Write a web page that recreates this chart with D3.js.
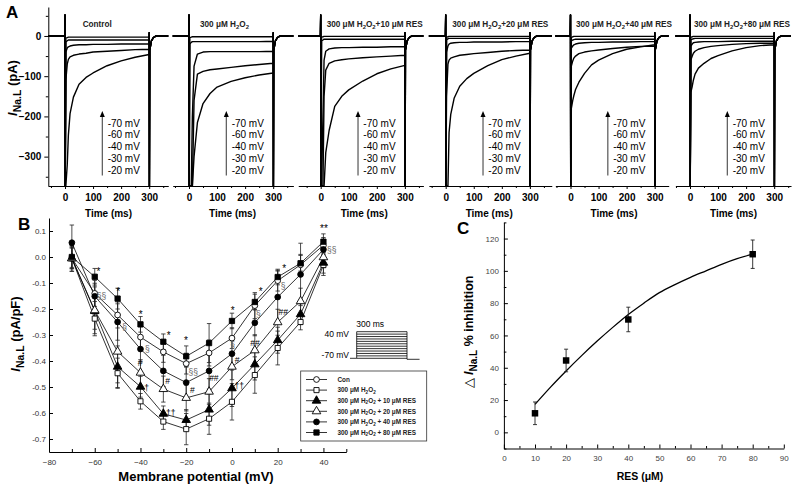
<!DOCTYPE html>
<html><head><meta charset="utf-8">
<script src="https://cdn.jsdelivr.net/npm/d3@7"></script>
<style>
body{margin:0;background:#fff}
svg{display:block}
text{font-family:"Liberation Sans",Arial,sans-serif}
</style>
</head><body>
<svg id="c" width="796" height="486"></svg>
<script>
// ================= DATA =================
// ---- Panel A: late sodium current traces ----
const aPanelTitles = ["Control","300 μM H2O2","300 μM H2O2+10 μM RES","300 μM H2O2+20 μM RES","300 μM H2O2+40 μM RES","300 μM H2O2+80 μM RES"];
const aStepLabels = ["-70 mV","-60 mV","-40 mV","-30 mV","-20 mV"];
const aYTicks = [0,-100,-200,-300];
const aYMinor = [50,-50,-150,-250,-350];
const aXTicks = [0,100,200,300];
const aXMinor = [-50,50,150,250,350];
// sample times (ms) of the traces after the step onset
const traceT = [3,8,12,18,30,50,75,100,150,200,250,300];
// holding baseline and capacitive spike before/after the step (ms, pA)
const artifactPre = [[-90,0],[-1,0],[0,52],[0.8,-380]];
const artifactPost = [[300.3,8],[300.8,-380],[302,-35],[308,-12],[315,-4],[325,0],[400,0]];
// traces per panel, rows = -70, -60, -40, -30, -20 mV (pA)
const trControl = [
  [-5,-4,-3,-3,-3,-3,-3,-3,-3,-3,-3,-3],
  [-15,-12,-10,-10,-10,-10,-10,-10,-10,-10,-10,-10],
  [-40,-30,-27,-25,-23,-22,-22,-21,-21,-20,-20,-20],
  [-110,-70,-58,-52,-48,-45,-43,-40,-38,-36,-34,-33],
  [-375,-320,-247,-193,-152,-120,-103,-92,-74,-62,-53,-46]];
const trH2O2 = [
  [-4,-3,-2,-2,-2,-2,-2,-2,-2,-2,-2,-2],
  [-20,-16,-14,-14,-14,-14,-14,-14,-14,-14,-14,-13],
  [-375,-375,-200,-75,-45,-40,-39,-39,-39,-39,-39,-38],
  [-375,-375,-375,-160,-95,-88,-84,-82,-78,-74,-71,-68],
  [-375,-375,-375,-300,-215,-168,-143,-127,-113,-104,-97,-92]];
const trRes10 = [
  [-3,-2,-1,-1,-1,-1,-1,-1,-1,-1,-1,-1],
  [-12,-10,-8,-8,-8,-8,-8,-8,-8,-8,-8,-8],
  [-375,-200,-60,-38,-32,-30,-29,-29,-28,-28,-27,-27],
  [-375,-375,-150,-85,-68,-62,-59,-57,-54,-52,-50,-48],
  [-375,-375,-375,-290,-235,-175,-150,-134,-112,-94,-82,-73]];
const trRes20 = [
  [-3,-2,-1,-1,-1,-1,-1,-1,-1,-1,-1,-1],
  [-10,-7,-6,-6,-6,-6,-6,-6,-6,-6,-6,-6],
  [-40,-25,-20,-18,-17,-16,-16,-15,-15,-15,-14,-14],
  [-150,-70,-60,-55,-52,-48,-46,-44,-41,-38,-36,-35],
  [-375,-375,-240,-195,-155,-125,-106,-93,-74,-59,-50,-43]];
const trRes40 = [
  [-4,-2,-1,-1,-1,-1,-1,-1,-1,-1,-1,-1],
  [-12,-10,-9,-8,-8,-8,-8,-8,-8,-8,-8,-8],
  [-30,-25,-22,-20,-18,-17,-16,-16,-15,-15,-14,-14],
  [-75,-62,-55,-50,-44,-40,-37,-35,-31,-28,-26,-25],
  [-180,-160,-148,-133,-115,-93,-72,-60,-44,-33,-27,-22]];
const trRes80 = [
  [-3,-2,-1,-1,-1,-1,-1,-1,-1,-1,-1,-1],
  [-10,-8,-7,-6,-6,-6,-6,-6,-6,-6,-6,-6],
  [-25,-20,-17,-16,-15,-14,-14,-14,-13,-13,-13,-13],
  [-60,-50,-43,-38,-33,-29,-26,-24,-21,-19,-18,-18],
  [-140,-125,-110,-95,-80,-68,-56,-49,-37,-29,-24,-22]];
const aTraces = [trControl,trH2O2,trRes10,trRes20,trRes40,trRes80];
// arrow & step-label positions in data units (ms, pA)
const aArrowT = 133, aArrowFrom = -347, aArrowTo = -189;
const aLabelT = 152;
const aLabelV = [-217,-246,-276,-305,-334];

// ---- Panel B: I-V relationship ----
const ivV = [-70,-60,-50,-40,-30,-20,-10,0,10,20,30,40];
const ivCon   = [-0.005,-0.14,-0.223,-0.308,-0.365,-0.41,-0.369,-0.312,-0.187,-0.091,-0.03,0.045];
const ivH2O2  = [-0.005,-0.237,-0.447,-0.555,-0.633,-0.662,-0.622,-0.557,-0.454,-0.35,-0.25,-0.031];
const ivRes10 = [-0.005,-0.208,-0.422,-0.499,-0.603,-0.627,-0.587,-0.505,-0.413,-0.32,-0.22,-0.022];
const ivRes20 = [-0.005,-0.205,-0.364,-0.445,-0.508,-0.542,-0.518,-0.422,-0.359,-0.251,-0.17,-0.001];
const ivRes40 = [0.055,-0.151,-0.25,-0.354,-0.438,-0.483,-0.438,-0.372,-0.253,-0.154,-0.067,0.029];
const ivRes80 = [0.0,-0.076,-0.16,-0.259,-0.326,-0.382,-0.331,-0.246,-0.173,-0.077,-0.024,0.059];
const errCon   = [0.04,0.05,0.05,0.04,0.04,0.04,0.05,0.04,0.05,0.04,0.04,0.03];
const errH2O2  = [0.05,0.066,0.058,0.03,0.03,0.06,0.06,0.07,0.07,0.065,0.03,0.04];
const errRes10 = [0.05,0.07,0.08,0.04,0.03,0.04,0.06,0.07,0.06,0.05,0.04,0.04];
const errRes20 = [0.04,0.09,0.12,0.05,0.05,0.05,0.05,0.05,0.06,0.05,0.05,0.04];
const errRes40 = [0.068,0.05,0.07,0.05,0.06,0.06,0.07,0.05,0.05,0.1,0.12,0.03];
const errRes80 = [0.04,0.032,0.04,0.03,0.03,0.04,0.075,0.03,0.03,0.03,0.03,0.03];
const ivLegend = ["Con","300 μM H2O2","300 μM H2O2 + 10 μM RES","300 μM H2O2 + 20 μM RES","300 μM H2O2 + 40 μM RES","300 μM H2O2 + 80 μM RES"];
const ivXTicks = [-80,-60,-40,-20,0,20,40];
const ivXMinor = [-70,-50,-30,-10,10,30,50];
const ivYTicks = [0.1,0.0,-0.1,-0.2,-0.3,-0.4,-0.5,-0.6,-0.7];
// significance marks: [mV, value, label]
const ivMarks = [
  [-58.4,-0.057,"*"],[-57.0,-0.149,"§§"],[-49.7,-0.131,"*"],[-46.9,-0.268,"§"],
  [-39.9,-0.220,"*"],[-37.0,-0.355,"§"],[-40.2,-0.407,"#"],[-37.3,-0.503,"†"],
  [-27.7,-0.300,"*"],[-28.1,-0.476,"#"],[-26.8,-0.599,"††"],
  [-20.1,-0.323,"*"],[-16.9,-0.441,"§§"],[-17.3,-0.512,"#"],[-7.9,-0.467,"##"],
  [0.3,-0.207,"*"],[0.3,-0.338,"§"],[2.3,-0.396,"#"],[3.2,-0.495,"††"],
  [12.6,-0.131,"*"],[11.5,-0.220,"§"],[10.1,-0.332,"##"],
  [22.8,-0.046,"*"],[22.4,-0.110,"§"],[22.4,-0.210,"##"],
  [40.2,0.110,"**"],[43.6,0.027,"§§"]];
// voltage protocol inset
const protoLevels = [-70,-60,-50,-40,-30,-20,-10,0,10,20,30,40];
const protoLabels = ["40 mV","-70 mV","300 ms"];

// ---- Panel C: concentration-inhibition ----
const resConc = [10,20,40,80];
const resInhib = [11.8,44.5,69.9,110.3];
const resErr = [7,7,7.6,8.8];
const fitX = [10,15,20,25,30,35,40,45,50,55,60,65,70,75,80];
const fitY = [17.3,28,38,47.5,56.5,65,73,80,86.5,91.5,96,100,104,107.5,110.3];
const cXTicks = [0,10,20,30,40,50,60,70,80,90];
const cXMinor = [5,15,25,35,45,55,65,75,85];
const cYTicks = [0,20,40,60,80,100,120];
const cYMinor = [-10,10,30,50,70,90,110,130];

// ================= DRAW =================
const svg = d3.select("#c");

function richText(t, str, fs) {
  const parts = str.split(/(H2O2)/);
  let pend = 0;
  const add = (txt, sub) => {
    const sp = t.append("tspan").text(txt);
    if (sub) { sp.attr("font-size", fs*0.72).attr("dy", fs*0.22 - pend); pend = fs*0.22; }
    else if (pend) { sp.attr("dy", -pend); pend = 0; }
  };
  parts.forEach(p => {
    if (p === "H2O2") { add("H"); add("2", true); add("O"); add("2", true); }
    else if (p.length) add(p);
  });
}
function inaLabel(t, suffix, fs, prefix) {
  if (prefix) t.append("tspan").attr("font-weight","normal").text(prefix);
  t.append("tspan").attr("font-style","italic").text("I");
  t.append("tspan").attr("dy", fs*0.3).attr("font-size", fs*0.8).text("Na.L");
  t.append("tspan").attr("dy", -fs*0.3).text(suffix);
}
function styleAxis(g, fs, col, bold) {
  g.selectAll("path.domain").attr("stroke","#000").attr("stroke-width",1);
  g.selectAll(".tick line").attr("stroke","#000").attr("stroke-width",1);
  g.selectAll(".tick text").attr("font-size",fs).attr("fill",col)
    .attr("font-family",'"Liberation Sans",Arial,sans-serif')
    .attr("font-weight",bold?"bold":"normal");
}

// ---------- Panel A ----------
const yA = d3.scaleLinear().domain([-373,72]).range([186,7]).clamp(true);
const aAxX = 48.3;
{
  const g = svg.append("g").attr("transform",`translate(${aAxX},0)`);
  g.call(d3.axisLeft(yA).tickValues(aYTicks).tickSize(4).tickSizeOuter(0).tickPadding(3));
  styleAxis(g, 10, "#000", true);
  const gm = svg.append("g").attr("transform",`translate(${aAxX},0)`);
  gm.call(d3.axisLeft(yA).tickValues(aYMinor).tickSize(2.5).tickFormat(""));
  gm.select("path.domain").remove();
  gm.selectAll(".tick line").attr("stroke","#000");
}
const aLab = svg.append("text").attr("transform","translate(17,88) rotate(-90)")
  .attr("text-anchor","middle").attr("font-size",13).attr("font-weight","bold");
inaLabel(aLab, " (pA)", 13);
svg.append("text").attr("x",6).attr("y",18).attr("font-size",17).attr("font-weight","bold").text("A");

const aZero = [65,189,320.7,445.7,570.5,690];
const aDomain = [[-60,368],[-58,372],[-80,366],[-60,378],[-54,350],[-52,360]];
const kA = 0.2806;
aTraces.forEach((tr, i) => {
  const z = aZero[i], dom = aDomain[i];
  const x = d3.scaleLinear().domain(dom).range([z + dom[0]*kA, z + dom[1]*kA]).clamp(true);
  const gx = svg.append("g").attr("transform","translate(0,186)");
  gx.call(d3.axisBottom(x).tickValues(aXTicks).tickSize(3).tickSizeOuter(0).tickPadding(5));
  styleAxis(gx, 10, "#000", true);
  const gxm = svg.append("g").attr("transform","translate(0,186)");
  gxm.call(d3.axisBottom(x).tickValues(aXMinor.filter(v=>v>dom[0]&&v<dom[1])).tickSize(2).tickFormat(""));
  gxm.select("path.domain").remove();
  gxm.selectAll(".tick line").attr("stroke","#000");
  svg.append("text").attr("x", x(155)).attr("y", 217).attr("text-anchor","middle")
    .attr("font-size",10).attr("font-weight","bold").text("Time (ms)");
  const line = d3.line().x(d=>x(d[0])).y(d=>yA(d[1]));
  tr.forEach(vals => {
    const pts = artifactPre.concat(traceT.map((t,j)=>[t, vals[j]]), artifactPost);
    svg.append("path").attr("d", line(pts)).attr("fill","none")
      .attr("stroke","#000").attr("stroke-width",1.4).attr("stroke-linejoin","round");
  });
  // title
  const titleOff = [17.7,11,6,6.6,5.5,4][i];
  const tt = svg.append("text").attr("x", z + titleOff).attr("y", 27)
    .attr("font-size",8.2).attr("font-weight","bold").attr("fill","#222");
  richText(tt, aPanelTitles[i], 8.2);
  // arrow
  const ax = x(aArrowT);
  svg.append("line").attr("x1",ax).attr("x2",ax).attr("y1",yA(aArrowFrom)).attr("y2",yA(aArrowTo)+3)
    .attr("stroke","#555").attr("stroke-width",1.2);
  svg.append("path").attr("d",`M${ax},${yA(aArrowTo)-1}l-2.5,6h5z`).attr("fill","#000");
  aStepLabels.forEach((s,j) => {
    svg.append("text").attr("x", x(aLabelT)).attr("y", yA(aLabelV[j]))
      .attr("dy","0.35em").attr("font-size",10).text(s);
  });
});

// ---------- Panel B ----------
const xB = d3.scaleLinear().domain([-80,50]).range([49,346.3]);
const yB = d3.scaleLinear().domain([-0.75,0.15]).range([452,218]);
{
  const gx = svg.append("g").attr("transform","translate(0,452)");
  gx.call(d3.axisBottom(xB).tickValues(ivXTicks).tickSize(-4).tickSizeOuter(0).tickPadding(7));
  styleAxis(gx, 8, "#333", false);
  const gxm = svg.append("g").attr("transform","translate(0,452)");
  gxm.call(d3.axisBottom(xB).tickValues(ivXMinor).tickSize(-3).tickFormat(""));
  gxm.select("path.domain").remove();
  gxm.selectAll(".tick line").attr("stroke","#000");
  const gy = svg.append("g").attr("transform","translate(49,0)");
  gy.call(d3.axisLeft(yB).tickValues(ivYTicks).tickSize(-4).tickSizeOuter(0).tickPadding(3).tickFormat(d3.format(".1f")));
  styleAxis(gy, 8, "#333", false);
  gy.selectAll(".tick text").text(d => d3.format(".1f")(d).replace("−","-"));
}
svg.append("text").attr("x",196).attr("y",481).attr("text-anchor","middle")
  .attr("font-size",13).attr("font-weight","bold").text("Membrane potential (mV)");
const bLab = svg.append("text").attr("transform","translate(20,334) rotate(-90)")
  .attr("text-anchor","middle").attr("font-size",13).attr("font-weight","bold");
inaLabel(bLab, " (pA/pF)", 13);
svg.append("text").attr("x",18).attr("y",230).attr("font-size",17).attr("font-weight","bold").text("B");

const ivSeries = [
  {v:ivCon, e:errCon, sym:d3.symbolCircle, fill:"#fff", size:26},
  {v:ivH2O2, e:errH2O2, sym:d3.symbolSquare, fill:"#fff", size:26},
  {v:ivRes10, e:errRes10, sym:d3.symbolTriangle, fill:"#000", size:32},
  {v:ivRes20, e:errRes20, sym:d3.symbolTriangle, fill:"#fff", size:32},
  {v:ivRes40, e:errRes40, sym:d3.symbolCircle, fill:"#000", size:26},
  {v:ivRes80, e:errRes80, sym:d3.symbolSquare, fill:"#000", size:28}];
const lineB = d3.line().x((d,i)=>xB(ivV[i])).y(d=>yB(d));
ivSeries.forEach(s => {
  s.v.forEach((val,i) => {
    const cx = xB(ivV[i]), y1 = yB(val + s.e[i]), y2 = yB(val - s.e[i]);
    svg.append("path").attr("d",`M${cx},${y1}V${y2}M${cx-2.2},${y1}h4.4M${cx-2.2},${y2}h4.4`)
      .attr("stroke","#222").attr("stroke-width",0.8).attr("fill","none");
  });
});
ivSeries.forEach(s => {
  svg.append("path").attr("d", lineB(s.v)).attr("fill","none").attr("stroke","#000").attr("stroke-width",0.8);
});
ivSeries.forEach(s => {
  s.v.forEach((val,i) => {
    svg.append("path").attr("d", d3.symbol().type(s.sym).size(s.size)())
      .attr("transform",`translate(${xB(ivV[i])},${yB(val)})`)
      .attr("fill", s.fill).attr("stroke","#000").attr("stroke-width",0.9);
  });
});
ivMarks.forEach(m => {
  svg.append("text").attr("x", xB(m[0])).attr("y", yB(m[1])).attr("dy","0.35em")
    .attr("text-anchor","middle").attr("font-size", m[2].startsWith("*")?10:8.5)
    .attr("fill", m[2].startsWith("§")?"#666":"#000").text(m[2]);
});
// protocol inset
{
  const yP = d3.scaleLinear().domain([-70,40]).range([358.3,331.7]);
  const xP = d3.scaleLinear().domain([0,300]).range([356.7,407]);
  const g = svg.append("g").attr("stroke","#000").attr("stroke-width",0.8).attr("fill","none");
  protoLevels.forEach(l => g.append("line").attr("x1",xP(0)).attr("x2",xP(300)).attr("y1",yP(l)).attr("y2",yP(l)));
  g.append("line").attr("x1",xP(0)).attr("x2",xP(0)).attr("y1",yP(40)).attr("y2",yP(-70));
  g.append("line").attr("x1",xP(300)).attr("x2",xP(300)).attr("y1",yP(40)).attr("y2",yP(-70)+1);
  g.append("line").attr("x1",xP(-40)).attr("x2",xP(0)).attr("y1",yP(-70)).attr("y2",yP(-70));
  g.append("line").attr("x1",xP(300)).attr("x2",xP(375)).attr("y1",yP(-70)+1).attr("y2",yP(-70)+1);
  svg.append("text").attr("x",349).attr("y",yP(40)+2).attr("dy","0.35em").attr("text-anchor","end").attr("font-size",8.5).text(protoLabels[0]);
  svg.append("text").attr("x",349).attr("y",yP(-70)-3).attr("dy","0.35em").attr("text-anchor","end").attr("font-size",8.5).text(protoLabels[1]);
  svg.append("text").attr("x",xP(80)).attr("y",yP(40)-5).attr("text-anchor","middle").attr("font-size",8.5).text(protoLabels[2]);
}
// legend
{
  svg.append("rect").attr("x",300.7).attr("y",371).attr("width",126).attr("height",70)
    .attr("fill","#fff").attr("stroke","#333").attr("stroke-width",0.8);
  ivSeries.forEach((s,i) => {
    const yy = 379.5 + i*10.6;
    svg.append("line").attr("x1",306).attr("x2",327).attr("y1",yy).attr("y2",yy).attr("stroke","#000").attr("stroke-width",0.8);
    svg.append("path").attr("d", d3.symbol().type(s.sym).size(s.size)())
      .attr("transform",`translate(316.5,${yy})`).attr("fill",s.fill).attr("stroke","#000").attr("stroke-width",0.9);
    const t = svg.append("text").attr("x",337.5).attr("y",yy).attr("dy","0.35em")
      .attr("font-size",6.4).attr("font-weight","bold").attr("fill","#222");
    richText(t, ivLegend[i], 6.4);
  });
}

// ---------- Panel C ----------
const xC = d3.scaleLinear().domain([0,90]).range([503.9,783.8]);
const yC = d3.scaleLinear().domain([-10,130]).range([448.5,222.4]);
{
  const gx = svg.append("g").attr("transform","translate(0,448.5)");
  gx.call(d3.axisBottom(xC).tickValues(cXTicks).tickSize(-4).tickSizeOuter(0).tickPadding(7));
  styleAxis(gx, 8, "#444", false);
  const gxm = svg.append("g").attr("transform","translate(0,448.5)");
  gxm.call(d3.axisBottom(xC).tickValues(cXMinor).tickSize(-2.5).tickFormat(""));
  gxm.select("path.domain").remove();
  gxm.selectAll(".tick line").attr("stroke","#000");
  const gy = svg.append("g").attr("transform","translate(503.9,0)");
  gy.call(d3.axisLeft(yC).tickValues(cYTicks).tickSize(-4).tickSizeOuter(0).tickPadding(5));
  styleAxis(gy, 8, "#444", false);
  const gym = svg.append("g").attr("transform","translate(503.9,0)");
  gym.call(d3.axisLeft(yC).tickValues(cYMinor).tickSize(-2.5).tickFormat(""));
  gym.select("path.domain").remove();
  gym.selectAll(".tick line").attr("stroke","#000");
}
svg.append("text").attr("x",640).attr("y",480).attr("text-anchor","middle")
  .attr("font-size",10.5).attr("font-weight","bold").text("RES (μM)");
const cLab = svg.append("text").attr("transform","translate(473,332) rotate(-90)")
  .attr("text-anchor","middle").attr("font-size",12.5).attr("font-weight","bold");
inaLabel(cLab, " % inhibition", 12.5, "△ ");
svg.append("text").attr("x",457).attr("y",234).attr("font-size",17).attr("font-weight","bold").text("C");
svg.append("path").attr("d", d3.line().curve(d3.curveMonotoneX).x((d,i)=>xC(fitX[i])).y(d=>yC(d))(fitY))
  .attr("fill","none").attr("stroke","#000").attr("stroke-width",1.3);
resConc.forEach((c,i) => {
  const cx = xC(c), y1 = yC(resInhib[i]+resErr[i]), y2 = yC(resInhib[i]-resErr[i]);
  svg.append("path").attr("d",`M${cx},${y1}V${y2}M${cx-2},${y1}h4M${cx-2},${y2}h4`)
    .attr("stroke","#222").attr("stroke-width",0.9).attr("fill","none");
  svg.append("path").attr("d", d3.symbol().type(d3.symbolSquare).size(42)())
    .attr("transform",`translate(${cx},${yC(resInhib[i])})`).attr("fill","#000");
});
</script>
</body></html>
